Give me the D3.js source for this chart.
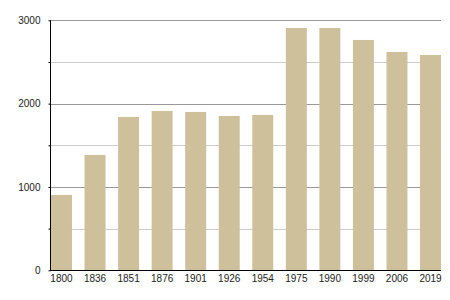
<!DOCTYPE html>
<html><head><meta charset="utf-8">
<script src="https://cdn.jsdelivr.net/npm/d3@7"></script>
<style>body{margin:0;background:#fff}svg{display:block}</style>
</head><body>
<script>
const years = ["1800","1836","1851","1876","1901","1926","1954","1975","1990","1999","2006","2019"];
const population = [904, 1384, 1840, 1912, 1900, 1852, 1864, 2908, 2908, 2764, 2620, 2584];
const majorTicks = [0, 1000, 2000, 3000];
const minorTicks = [500, 1500, 2500];

const W = 450, H = 300;
const svg = d3.select("body").append("svg").attr("width", W).attr("height", H);
const x = d3.scaleBand().domain(years).range([51, 441]).paddingInner(0.375).paddingOuter(0);
const y = d3.scaleLinear().domain([0, 3000]).range([270.3, 20.3]);

// gridlines
svg.append("g").selectAll("line").data(minorTicks).join("line")
  .attr("x1", 50).attr("x2", 441).attr("y1", d => Math.round(y(d)) + 0.5).attr("y2", d => Math.round(y(d)) + 0.5)
  .attr("stroke", "#cccccc").attr("stroke-width", 1);
svg.append("g").selectAll("line").data(majorTicks.filter(d => d > 0)).join("line")
  .attr("x1", 50).attr("x2", 441).attr("y1", d => Math.round(y(d)) + 0.5).attr("y2", d => Math.round(y(d)) + 0.5)
  .attr("stroke", "#999999").attr("stroke-width", 1);

// bars
svg.append("g").selectAll("rect").data(years).join("rect")
  .attr("x", d => x(d)).attr("width", x.bandwidth())
  .attr("y", (d, i) => y(population[i])).attr("height", (d, i) => y(0) - y(population[i]))
  .attr("fill", "#cdc09a");

// y axis
const yAxis = svg.append("g").attr("transform", "translate(50.5,0)")
  .call(d3.axisLeft(y).tickValues(majorTicks.concat(minorTicks)).tickSize(2).tickPadding(8)
    .tickFormat(d => majorTicks.includes(d) ? d3.format("d")(d) : ""));
yAxis.select(".domain").attr("stroke", "#000").attr("d", `M0,${y(3000)}V${y(0)}`);
yAxis.selectAll(".tick line").attr("stroke", "#000");
yAxis.selectAll("text").attr("font-family", "Liberation Sans, Arial, sans-serif").attr("font-size", 10).attr("fill", "#222");

// x axis
const xAxis = svg.append("g").attr("transform", `translate(0,${Math.round(y(0)) + 0.5})`)
  .call(d3.axisBottom(x).tickSize(0).tickPadding(4));
xAxis.select(".domain").attr("stroke", "#000").attr("d", "M50,0H441");
xAxis.selectAll("text").attr("font-family", "Liberation Sans, Arial, sans-serif").attr("font-size", 10).attr("fill", "#222");
</script>
</body></html>
